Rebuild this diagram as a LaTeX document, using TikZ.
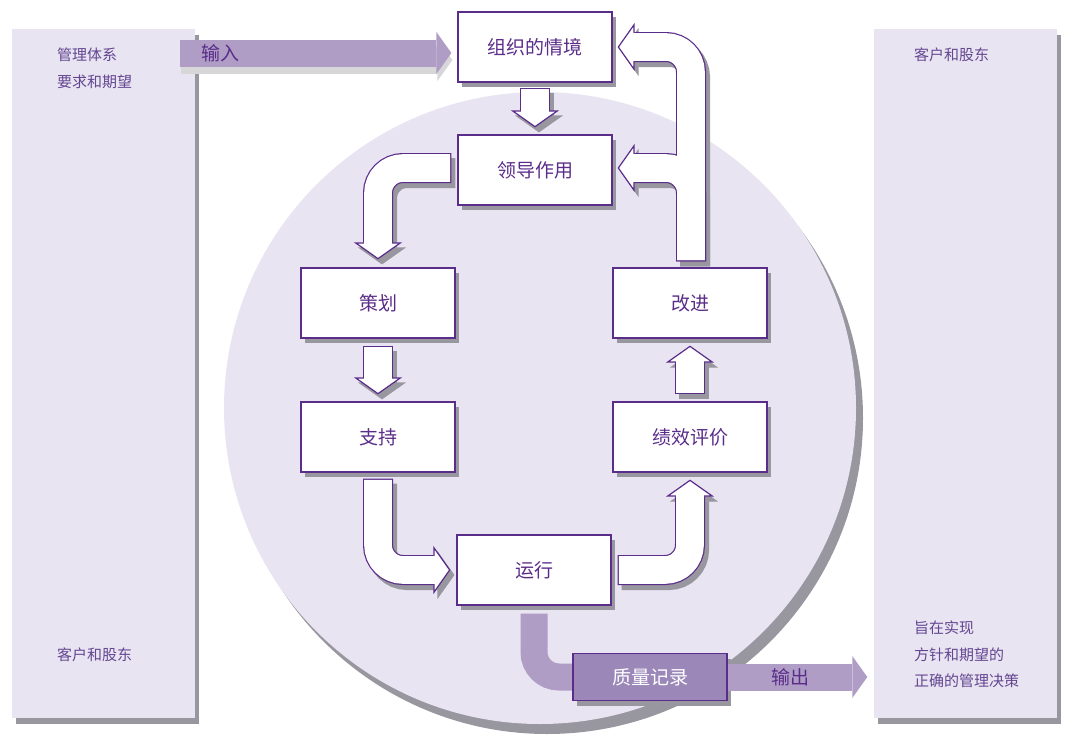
\documentclass[tikz,border=0pt]{standalone}
\usepackage{fontspec}
\setmainfont{Noto Sans CJK SC}
\usetikzlibrary{arrows.meta, shadows, calc}
\definecolor{vio}{RGB}{91,45,138}
\definecolor{txt}{RGB}{100,70,145}
\definecolor{lav}{RGB}{232,228,241}
\definecolor{lp}{RGB}{175,157,198}
\definecolor{rc}{RGB}{155,136,185}
\definecolor{shd}{RGB}{152,150,158}
\definecolor{shl}{RGB}{215,215,218}

\tikzset{
  box/.style={draw=vio, line width=1.2pt, fill=white, minimum width=154pt, minimum height=70pt, text=vio, font=\fontsize{19}{22}\selectfont, drop shadow={shadow xshift=4pt, shadow yshift=-5pt, fill=shd, opacity=1}},
  panel/.style={fill=lav, minimum width=183pt, minimum height=689pt, drop shadow={shadow xshift=4pt, shadow yshift=-6pt, fill=shd, opacity=1}},
  ptext/.style={anchor=west, inner sep=0pt, text=txt, font=\fontsize{15}{17}\selectfont},
  lbl/.style={text=vio, font=\fontsize{19}{21}\selectfont},
  band/.style={draw=vio, line width=30pt, rounded corners=25pt, -{Triangle[width=48pt, length=17pt, line width=1.2pt, fill=white]}},
  bandsh/.style={draw=shd, line width=30pt, rounded corners=25pt, transform canvas={xshift=4pt, yshift=-5pt}, -{Triangle[width=48pt, length=17pt, line width=1.2pt, fill=shd]}},
  bandin/.style={draw=white, line width=27.6pt, rounded corners=25pt, shorten <=1.2pt, shorten >=14pt},
  flow/.style={draw=lp, line width=27pt, -{Triangle[width=42pt, length=15pt, line width=0pt, fill=lp]}},
  flowsh/.style={draw=shl, line width=27pt, transform canvas={xshift=1pt, yshift=-7pt}, -{Triangle[width=42pt, length=15pt, line width=0pt, fill=shl]}},
}

\begin{document}
\begin{tikzpicture}[x=1pt, y=-1pt]
\useasboundingbox (0,0) rectangle (1080,739);
\node[panel] (p1) at (103.5,373.5) {};
\node[panel] (p2) at (965,373.5) {};
\fill[shd] (547,418) circle[radius=316pt];
\fill[lav] (540,408) circle[radius=316pt];

\node[ptext] (t1) at (57,55) {管理体系};
\node[ptext] (t2) at (57,82) {要求和期望};
\node[ptext] (t3) at (57,655) {客户和股东};
\node[ptext] (t4) at (914,55) {客户和股东};
\node[ptext] (t5) at (914,628) {旨在实现};
\node[ptext] (t6) at (914,655) {方针和期望的};
\node[ptext] (t7) at (914,681) {正确的管理决策};

\node[box] (c1) at (535,47) {组织的情境};
\node[box] (c2) at (535,170) {领导作用};
\node[box] (c3) at (378,303) {策划};
\node[box] (c4) at (378,437) {支持};
\node[box] (c5) at (534,570) {运行};
\node[box] (c6) at (690,437) {绩效评价};
\node[box] (c7) at (690,303) {改进};
\node[box, fill=rc, text=white, minimum height=47pt] (r1) at (650,677) {质量记录};

\draw[draw=lp, line width=27pt, rounded corners=25pt] ($(c5.south)+(0,8)$) |- ($(r1.west)+(-0.6,0)$);
\draw[flowsh] ($(p1.east |- c1.west)+(-15,6)$) -- ($(c1.west)+(-6,6)$);
\draw[flow] ($(p1.east |- c1.west)+(-15,6)$) -- node[lbl, pos=.15] (l1) {输入} ($(c1.west)+(-6,6)$);
\draw[flow] (r1.east) -- node[lbl, pos=.45] (l2) {输出} ($(p2.west |- r1.east)+(-6,0)$);

\foreach \st in {bandsh, band, bandin}{
  \draw[\st] ($(c1.south)+(0,5)$) -- ($(c2.north)+(0,-7)$);
  \draw[\st] ($(c2.west)+(-6,-2)$) -| ($(c3.north)+(0,-8)$);
  \draw[\st] ($(c3.south)+(0,7)$) -- ($(c4.north)+(0,-7)$);
  \draw[\st] ($(c4.south)+(0,6)$) |- ($(c5.west)+(-6,0)$);
  \draw[\st] ($(c5.east)+(6,0)$) -| ($(c6.south)+(0,7)$);
  \draw[\st] ($(c6.north)+(0,-7)$) -- ($(c7.south)+(0,7)$);
  \draw[\st] ($(c7.north)+(1,-6)$) |- ($(c2.east)+(5,-2)$);
  \draw[\st] ($(c7.north)+(1,-6)$) |- ($(c1.east)+(5,0)$);
}
\end{tikzpicture}
\end{document}
